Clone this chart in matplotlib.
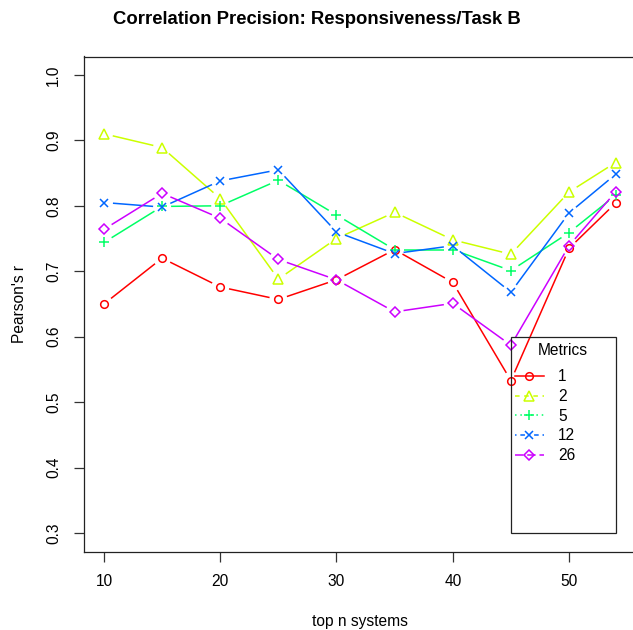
import numpy as np
import matplotlib.pyplot as plt
from matplotlib.patches import Rectangle
from matplotlib.lines import Line2D

plt.rcParams['font.family'] = ['Liberation Sans', 'DejaVu Sans']

# top n systems
top_n = [10, 15, 20, 25, 30, 35, 40, 45, 50, 54]

# Pearson's r per metric count
metric_labels = ["1", "2", "5", "12", "26"]
r_1 = [0.650, 0.720, 0.676, 0.657, 0.687, 0.733, 0.683, 0.533, 0.735, 0.804]
r_2 = [0.910, 0.889, 0.811, 0.688, 0.750, 0.790, 0.748, 0.726, 0.821, 0.866]
r_5 = [0.744, 0.799, 0.800, 0.839, 0.786, 0.733, 0.733, 0.701, 0.759, 0.816]
r_12 = [0.805, 0.798, 0.838, 0.855, 0.760, 0.727, 0.739, 0.668, 0.789, 0.848]
r_26 = [0.764, 0.819, 0.781, 0.718, 0.687, 0.638, 0.651, 0.587, 0.739, 0.821]
series = [r_1, r_2, r_5, r_12, r_26]

# R rainbow(5), pch 1..5, lty 1..5
colors = ["#FF0000", "#CCFF00", "#00FF66", "#0066FF", "#CC00FF"]
markers = ["o", "^", "+", "x", "D"]
msizes = [5.5, 6.5, 7.5, 6.0, 5.6]
dashes = [(None, None), (3, 3), (1, 2.5), (1, 2.5, 3, 2.5), (5.5, 2.5)]


def gapped_line(ax, x, y, color, gap_px=9.0, lw=1.1):
    """Draw R type='b' lines: segments that stop short of the points"""
    pts = ax.transData.transform(np.column_stack([x, y]))
    inv = ax.transData.inverted()
    for p0, p1 in zip(pts[:-1], pts[1:]):
        d = p1 - p0
        length = np.hypot(*d)
        if length <= 2 * gap_px:
            continue
        u = d / length
        seg = inv.transform(np.array([p0 + u * gap_px, p1 - u * gap_px]))
        ax.plot(seg[:, 0], seg[:, 1], color=color, lw=lw, solid_capstyle="butt")


fig = plt.figure(figsize=(6.33, 6.30), dpi=100)
ax = fig.add_axes([83.5 / 633, 78.5 / 630, 552.5 / 633, 495 / 630])
ax.set_xlim(8.24, 55.76)
ax.set_ylim(0.272, 1.028)

for vals, col, mk, ms in zip(series, colors, markers, msizes):
    gapped_line(ax, top_n, vals, col)
    ax.plot(top_n, vals, linestyle="none", marker=mk, markersize=ms,
            markerfacecolor="none", markeredgecolor=col, markeredgewidth=1.1)

ax.set_xticks([10, 20, 30, 40, 50])
ax.set_yticks([0.3, 0.4, 0.5, 0.6, 0.7, 0.8, 0.9, 1.0])
ax.set_yticklabels(["0.3", "0.4", "0.5", "0.6", "0.7", "0.8", "0.9", "1.0"],
                   rotation=90, va="center")
ax.tick_params(length=7, width=0.9, labelsize=11.2, pad=9, color="#333333")
for s in ax.spines.values():
    s.set_linewidth(0.9)
    s.set_color("#222222")
ax.spines["right"].set_visible(False)

ax.set_xlabel("top n systems", fontsize=11.2, labelpad=18)
ax.set_ylabel("Pearson's r", fontsize=11.2, labelpad=14)
fig.text(0.5, 1 - 19 / 630, "Correlation Precision: Responsiveness/Task B",
         ha="center", va="center", fontsize=13.3, fontweight="bold")

# legend box stretched to x = 45..54, y = 0.3..0.6
ax.add_patch(Rectangle((45, 0.3), 9, 0.3, fill=False, lw=0.9, ec="#222222", zorder=3))
ax.text(49.5, 0.579, "Metrics", ha="center", va="center", fontsize=11.2)
handles = []
for col, mk, ms, ds in zip(colors, markers, msizes, dashes):
    h = Line2D([], [], color=col, lw=1.1, marker=mk, markersize=ms,
               markerfacecolor="none", markeredgecolor=col, markeredgewidth=1.1)
    if ds[0] is not None:
        h.set_dashes(ds)
    handles.append(h)
ax.legend(handles, metric_labels, loc="upper left", bbox_to_anchor=(45.34, 0.550),
          bbox_transform=ax.transData, frameon=False, fontsize=11.2,
          handlelength=1.87, handletextpad=0.9, labelspacing=0.3, borderpad=0,
          borderaxespad=0)

fig.savefig("out.png", dpi=100)
